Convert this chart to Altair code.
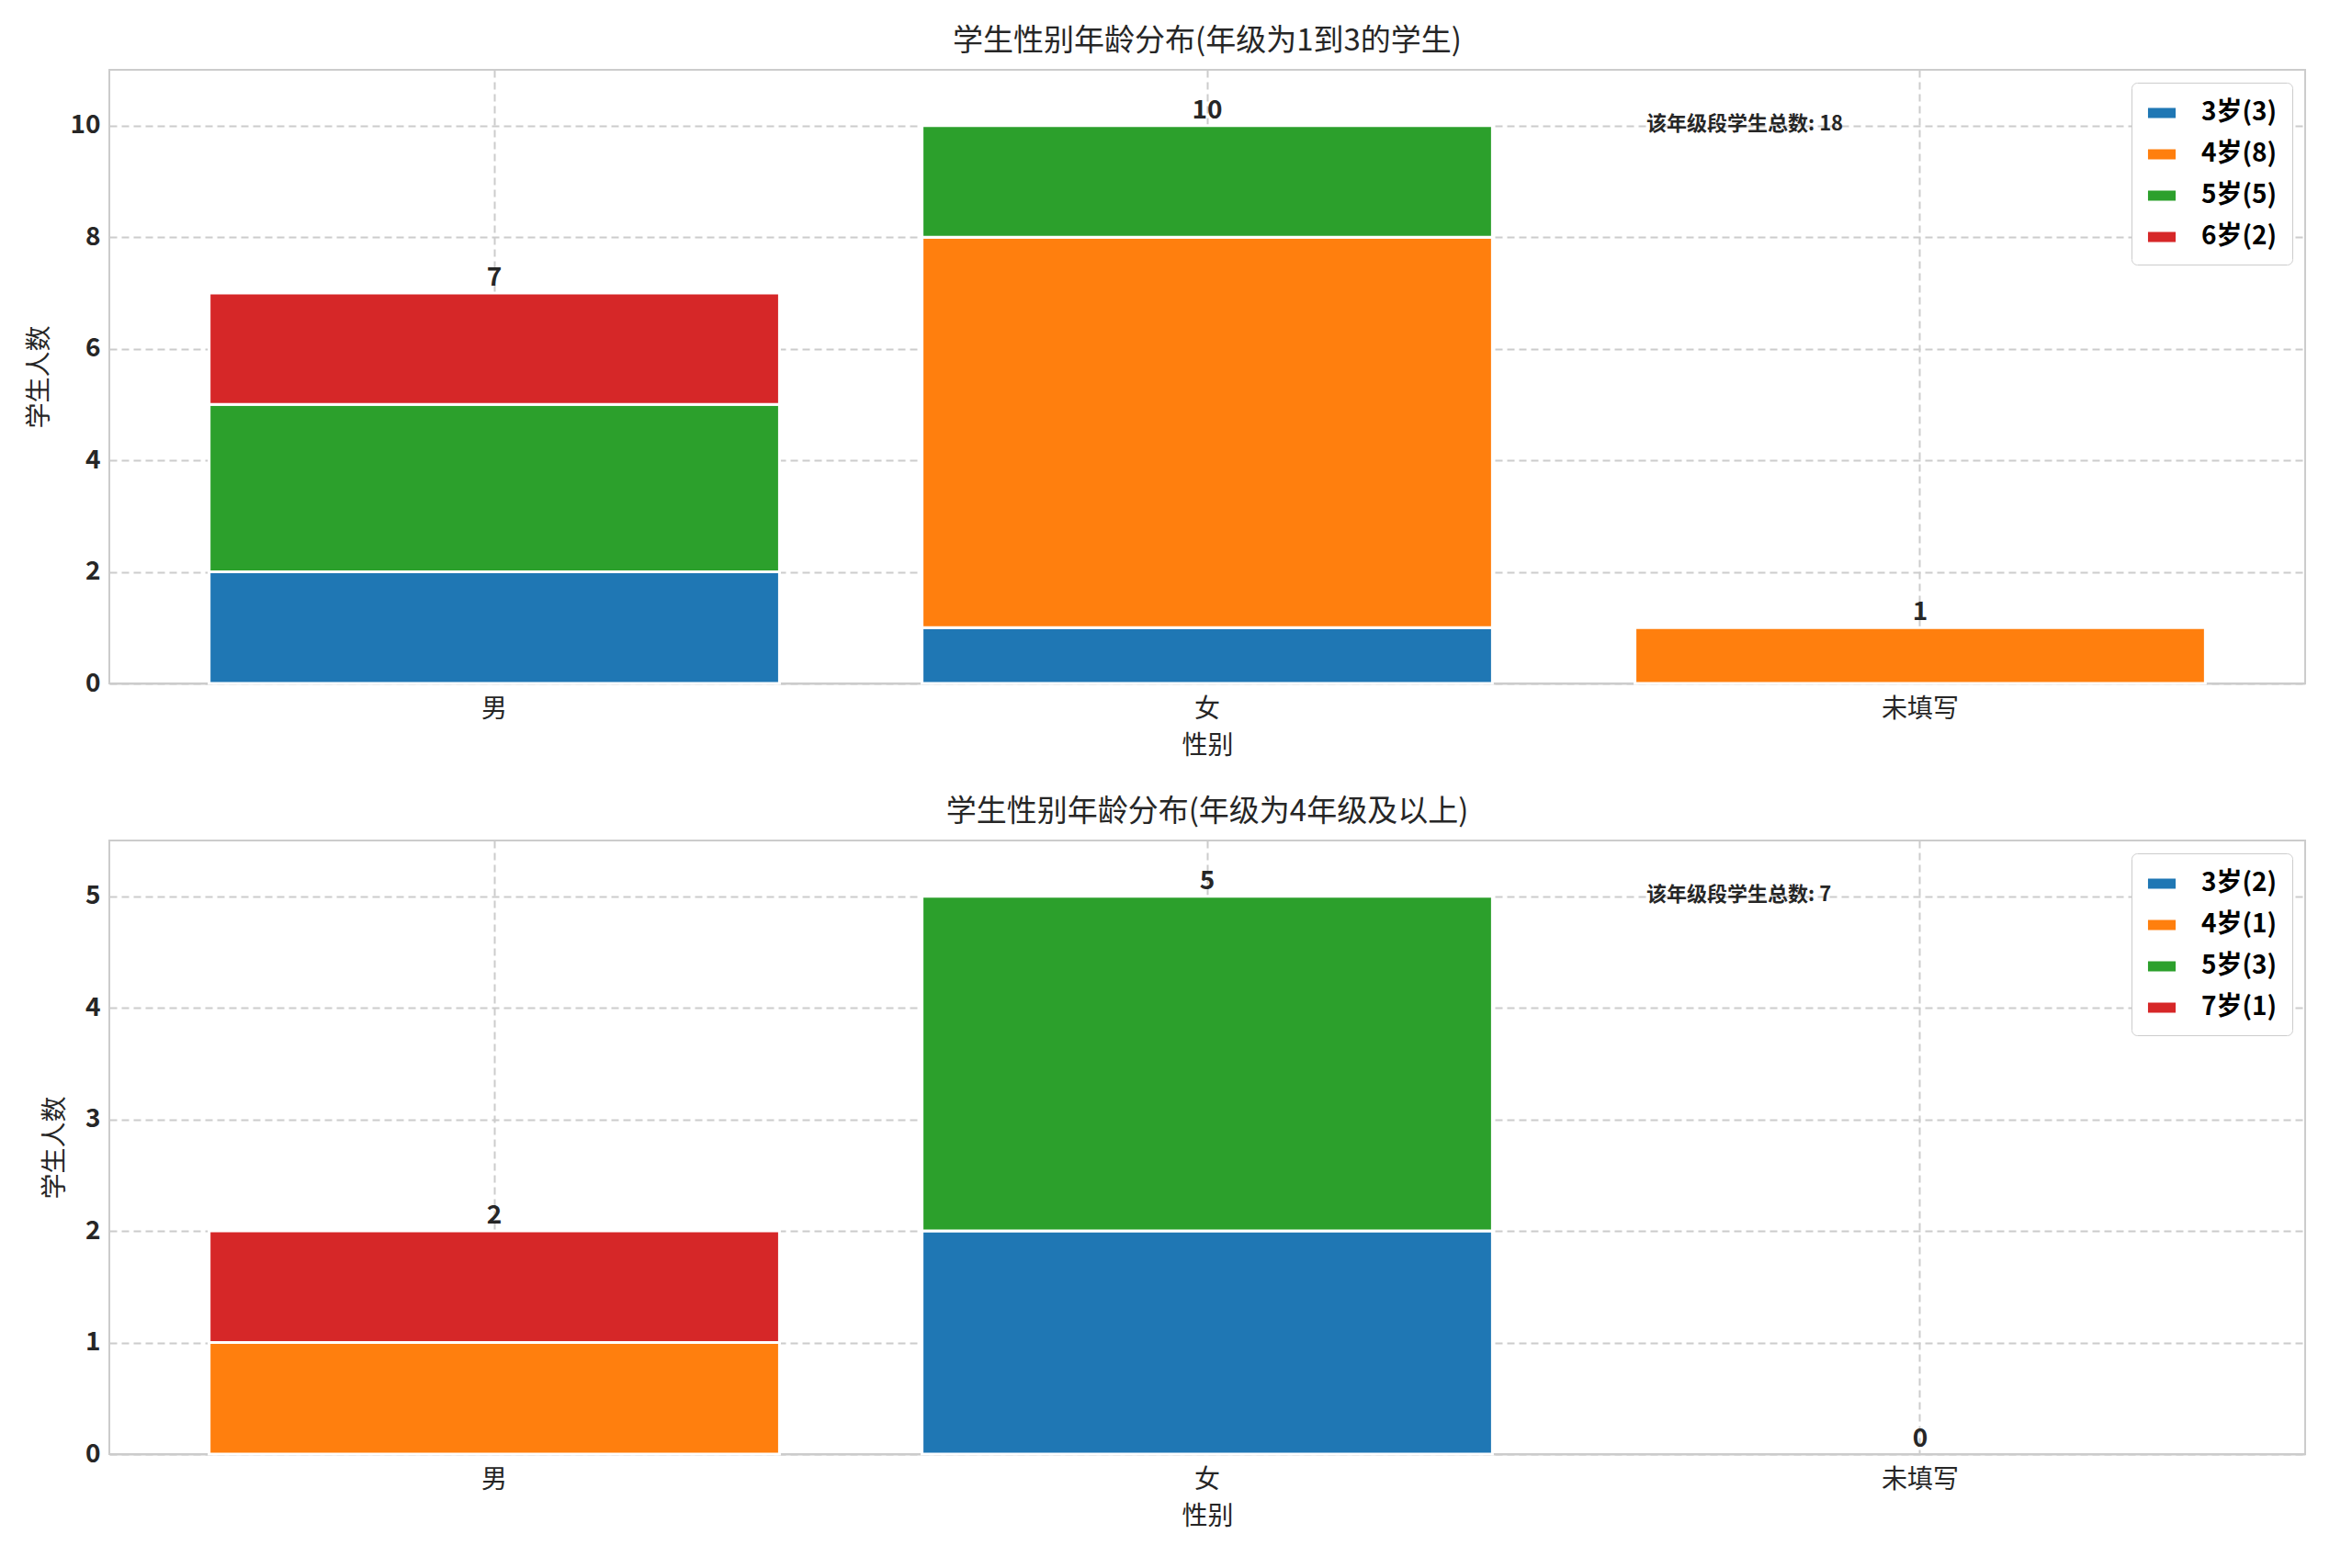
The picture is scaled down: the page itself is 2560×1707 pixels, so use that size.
import altair as alt
import pandas as pd

genders = ["男", "女", "未填写"]

# panel 1: 年级 1-3
p1_gender = ["男", "男", "男", "女", "女", "女", "未填写"]
p1_age = ["3岁(3)", "5岁(5)", "6岁(2)", "3岁(3)", "4岁(8)", "5岁(5)", "4岁(8)"]
p1_rank = [3, 5, 6, 3, 4, 5, 4]
p1_count = [2, 3, 2, 1, 7, 2, 1]
p1_legend = ["3岁(3)", "4岁(8)", "5岁(5)", "6岁(2)"]
p1_total = [7, 10, 1]

# panel 2: 年级 4 以上
p2_gender = ["男", "男", "女", "女"]
p2_age = ["4岁(1)", "7岁(1)", "3岁(2)", "5岁(3)"]
p2_rank = [4, 7, 3, 5]
p2_count = [1, 1, 2, 3]
p2_legend = ["3岁(2)", "4岁(1)", "5岁(3)", "7岁(1)"]
p2_total = [2, 5, 0]

colors = ["#1f77b4", "#ff7f0e", "#2ca02c", "#d62728"]
FONT = "Noto Sans CJK SC"
W, H = 2390, 668


def panel(gender, age, rank, count, legend, total, ymax, tick, title, note):
    df = pd.DataFrame({"性别": gender, "年龄": age, "rank": rank, "人数": count})
    tot = pd.DataFrame({"性别": genders, "人数": total})
    xenc = alt.X("性别:N", sort=genders, title="性别",
                 scale=alt.Scale(paddingInner=0.2, paddingOuter=0.14),
                 axis=alt.Axis(labelAngle=0, labelFontSize=28, titleFontSize=28,
                               titleFontWeight="normal", titlePadding=12,
                               labelPadding=14, ticks=False, grid=True,
                               gridDash=[8, 5], gridColor="#cccccc", gridWidth=2,
                               domainColor="#cccccc", domainWidth=2))
    yscale = alt.Scale(domain=[0, ymax], nice=False)
    bars = alt.Chart(df).mark_bar(stroke="white", strokeWidth=3).encode(
        x=xenc,
        y=alt.Y("人数:Q", stack="zero", scale=yscale, title="学生人数",
                axis=alt.Axis(values=tick, format="d", labelFontSize=28, labelFontWeight="bold",
                              titleFontSize=28, titleFontWeight="normal", titlePadding=18,
                              ticks=False, labelPadding=10,
                              gridDash=[8, 5], gridColor="#cccccc", gridWidth=2,
                              domain=False)),
        color=alt.Color("年龄:N", scale=alt.Scale(domain=legend, range=colors),
                        legend=alt.Legend(title=None, orient="top-right", labelFontSize=28,
                                          labelFontWeight="bold", symbolType="M-1,-0.4H1V0.4H-1Z",
                                          symbolSize=1000, symbolOpacity=1, rowPadding=14,
                                          padding=16, strokeColor="#cccccc", fillColor="white",
                                          cornerRadius=6, offset=14, labelOffset=26)),
        order=alt.Order("rank:Q"),
    )
    labels = alt.Chart(tot).mark_text(fontSize=28, fontWeight="bold", baseline="bottom",
                                      dy=-2, color="#262626", font=FONT).encode(
        x=alt.X("性别:N", sort=genders), y=alt.Y("人数:Q", scale=yscale), text="人数:Q")
    ann = alt.Chart(pd.DataFrame({"t": [note]})).mark_text(
        fontSize=22, fontWeight="bold", align="left", baseline="middle",
        color="#262626", font=FONT).encode(
        x=alt.value(W * 0.7), y=alt.value(H * 0.088), text="t:N")
    return (bars + labels + ann).properties(
        width=W, height=H,
        title=alt.TitleParams(title, fontSize=33, fontWeight="normal", offset=14))


top = panel(p1_gender, p1_age, p1_rank, p1_count, p1_legend, p1_total, 11,
            [0, 2, 4, 6, 8, 10], "学生性别年龄分布(年级为1到3的学生)", "该年级段学生总数: 18")
bottom = panel(p2_gender, p2_age, p2_rank, p2_count, p2_legend, p2_total, 5.5,
               [0, 1, 2, 3, 4, 5], "学生性别年龄分布(年级为4年级及以上)", "该年级段学生总数: 7")

chart = alt.vconcat(top, bottom, spacing=40).resolve_scale(color="independent").properties(
    padding={"top": 20, "left": 20, "right": 10, "bottom": 10}
).configure(font=FONT).configure_view(stroke="#cccccc", strokeWidth=2).configure_axis(
    labelColor="#262626", titleColor="#262626", labelFont=FONT, titleFont=FONT
).configure_title(color="#262626", font=FONT)

chart.save("out.html", embed_options={"renderer": "svg", "actions": False})
